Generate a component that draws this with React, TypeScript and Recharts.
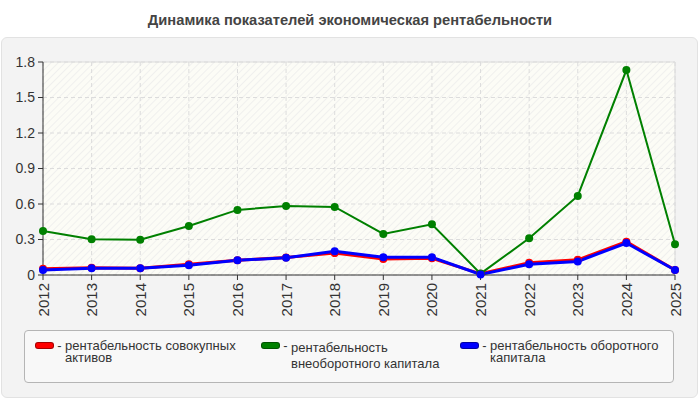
import React from "react";
import {
  LineChart,
  Line,
  XAxis,
  YAxis,
  CartesianGrid,
  ReferenceLine,
} from "recharts";

const title = "Динамика показателей экономическая рентабельности";

const years = [
  "2012", "2013", "2014", "2015", "2016", "2017", "2018",
  "2019", "2020", "2021", "2022", "2023", "2024", "2025",
];

const totalAssets = [0.052, 0.062, 0.058, 0.09, 0.125, 0.147, 0.185, 0.135, 0.142, 0.01, 0.104, 0.128, 0.282, 0.042];
const nonCurrentCapital = [0.372, 0.302, 0.298, 0.414, 0.55, 0.584, 0.575, 0.347, 0.429, 0.012, 0.31, 0.668, 1.732, 0.26];
const workingCapital = [0.043, 0.057, 0.057, 0.082, 0.125, 0.145, 0.2, 0.15, 0.15, 0.005, 0.09, 0.115, 0.27, 0.042];

const seriesNames = [
  "рентабельность совокупных активов",
  "рентабельность внеоборотного капитала",
  "рентабельность оборотного капитала",
];
const seriesKeys = ["total", "nonCurrent", "working"];
const seriesColors = ["#ff0000", "#008000", "#0000ff"];

const yTicks = [0, 0.3, 0.6, 0.9, 1.2, 1.5, 1.8];

const data = years.map((y, i) => ({
  year: y,
  total: totalAssets[i],
  nonCurrent: nonCurrentCapital[i],
  working: workingCapital[i],
}));

const FONT = "'Liberation Sans', Arial, sans-serif";

const XTick = (props: any) => {
  const { x, y, payload } = props;
  return (
    <text
      x={x}
      y={y}
      transform={`rotate(-90, ${x}, ${y})`}
      textAnchor="end"
      dominantBaseline="central"
      fontSize={15}
      fill="#333"
      fontFamily={FONT}
      dx={-1}
    >
      {payload.value}
    </text>
  );
};

const legendLefts = [35, 261, 460];
const legendLineHeights = [12, 16, 12];

export default function App() {
  return (
    <div style={{ position: "absolute", left: 0, top: 0, width: 700, height: 400, fontFamily: FONT }}>
      <svg width={0} height={0} style={{ position: "absolute" }}>
        <defs>
          <pattern id="hatch" patternUnits="userSpaceOnUse" width={5} height={5} patternTransform="rotate(45)">
            <rect x={0} y={0} width={5} height={5} fill="#fcfcf6" />
            <line x1={0} y1={0} x2={0} y2={5} stroke="#ececec" strokeWidth={1.5} />
          </pattern>
        </defs>
      </svg>
      <div
        style={{
          position: "absolute",
          left: 0,
          top: 0,
          width: 700,
          height: 36,
          textAlign: "center",
          lineHeight: "41px",
          fontWeight: "bold",
          fontSize: 14.7,
          color: "#444",
        }}
      >
        {title}
      </div>
      <div
        style={{
          position: "absolute",
          left: 1,
          top: 37,
          width: 695,
          height: 359,
          background: "#f3f3f3",
          border: "1px solid #e2e2e2",
          borderRadius: 6,
        }}
      />
      <div style={{ position: "absolute", left: 0, top: 0 }}>
        <LineChart
          width={700}
          height={400}
          data={data}
          margin={{ top: 62, right: 25, bottom: 89, left: 0 }}
        >
          <CartesianGrid
            stroke="#dcdcdc"
            strokeDasharray="4 3"
            fill="url(#hatch)"
            fillOpacity={1}
          />
          <ReferenceLine y={1.8} stroke="#dcdcdc" />
          <ReferenceLine x="2025" stroke="#dcdcdc" />
          <XAxis
            dataKey="year"
            height={36}
            interval={0}
            tick={<XTick />}
            tickSize={5}
            tickMargin={2}
            stroke="#333"
            axisLine={{ stroke: "#333" }}
            tickLine={{ stroke: "#333" }}
          />
          <YAxis
            width={43}
            domain={[0, 1.8]}
            ticks={yTicks}
            interval={0}
            tickSize={5}
            tickMargin={3}
            tick={{ fontSize: 14, fill: "#333", fontFamily: FONT }}
            axisLine={{ stroke: "#333" }}
            tickLine={{ stroke: "#333" }}
          />
          {seriesKeys.map((k, i) => (
            <Line
              key={k}
              type="linear"
              dataKey={k}
              name={seriesNames[i]}
              stroke={seriesColors[i]}
              strokeWidth={i === 1 ? 2 : 3}
              dot={{ r: 4, fill: seriesColors[i], stroke: seriesColors[i], strokeWidth: 0 }}
              activeDot={false}
              isAnimationActive={false}
            />
          ))}
        </LineChart>
      </div>
      <div
        style={{
          position: "absolute",
          left: 24,
          top: 330,
          width: 648,
          height: 51,
          background: "#f8f8f8",
          border: "1px solid #b5b5b5",
          borderRadius: 4,
        }}
      />
      {seriesNames.map((n, i) => (
        <div
          key={n}
          style={{
            position: "absolute",
            left: legendLefts[i],
            top: 340,
            display: "flex",
            alignItems: "flex-start",
            fontSize: 13,
            color: "#333",
          }}
        >
          <div
            style={{
              width: 17,
              height: 5,
              marginTop: 2,
              background: seriesColors[i],
              border: "1px solid rgba(0,0,0,0.35)",
              borderRadius: 3,
            }}
          />
          <div style={{ width: 11, textAlign: "center", lineHeight: "12px" }}>-</div>
          <div style={{ width: 176, lineHeight: `${legendLineHeights[i]}px` }}>{n}</div>
        </div>
      ))}
    </div>
  );
}
